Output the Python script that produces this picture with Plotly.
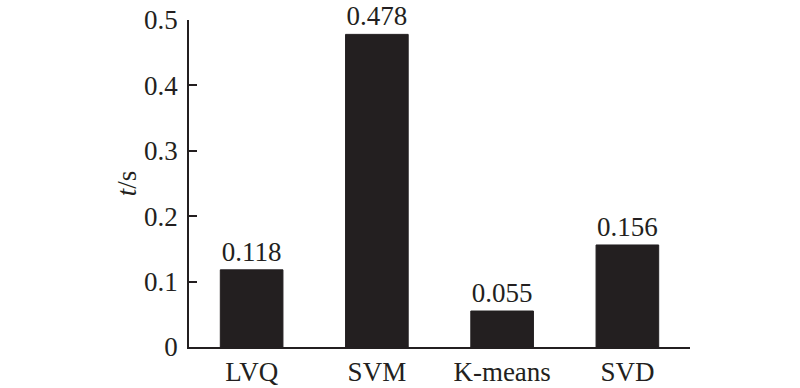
import plotly.graph_objects as go

categories = ["LVQ", "SVM", "K-means", "SVD"]
times = [0.118, 0.478, 0.055, 0.156]
labels = ["0.118", "0.478", "0.055", "0.156"]
y_ticks = [0, 0.1, 0.2, 0.3, 0.4, 0.5]
y_tick_text = ["0", "0.1", "0.2", "0.3", "0.4", "0.5"]

font_family = "Liberation Serif, Times New Roman, serif"
fs = 27

fig = go.Figure(go.Bar(
    x=categories, y=times, text=labels, textposition="outside",
    textfont=dict(family=font_family, size=fs, color="#231f20"),
    marker=dict(color="#231f20", line=dict(color="#231f20", width=1)),
    width=0.5, cliponaxis=False,
))

fig.update_layout(
    width=800, height=388,
    margin=dict(l=189, r=110, t=20, b=41),
    plot_bgcolor="white", paper_bgcolor="white",
    showlegend=False,
    uniformtext=dict(minsize=fs, mode="show"),
    font=dict(family=font_family, size=fs, color="#231f20"),
    xaxis=dict(
        range=[-0.5, 3.5], showline=True, linecolor="#231f20", linewidth=1.5,
        ticks="", showgrid=False, zeroline=False, automargin=False,
        tickfont=dict(family=font_family, size=fs, color="#231f20"),
    ),
    yaxis=dict(
        range=[0, 0.5], tickvals=y_ticks, ticktext=y_tick_text,
        showline=True, linecolor="#231f20", linewidth=1.5,
        ticks="inside", ticklen=8, tickwidth=1.5, tickcolor="#231f20",
        showgrid=False, zeroline=False, ticklabelstandoff=4, automargin=False,
        tickfont=dict(family=font_family, size=fs, color="#231f20"),
        title=dict(text="<i>t</i>/s", font=dict(family=font_family, size=fs, color="#231f20"), standoff=0),
    ),
)

fig.write_html(
    "out.html",
    config={"displayModeBar": False},
    post_script="document.body.style.margin='0';document.body.style.overflow='hidden';",
)
